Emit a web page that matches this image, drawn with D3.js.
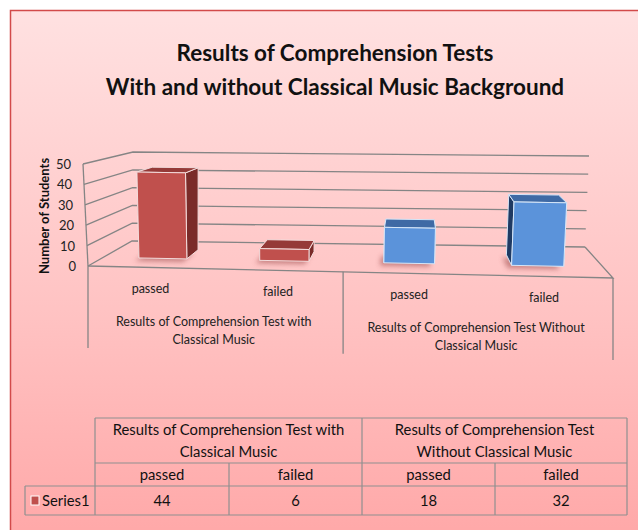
<!DOCTYPE html>
<html>
<head>
<meta charset="utf-8">
<script src="https://d3js.org/d3.v7.min.js"></script>
<style>
body { margin: 0; background: #ffffff; }
svg { display: block; font-family: Lato, "Open Sans", sans-serif; }
</style>
</head>
<body>
<svg id="chart"></svg>
<script>
// chart data
var titleLines = ["Results of Comprehension Tests", "With and without Classical Music Background"]
var yTitle = "Number of Students"
var groups = ["with", "without"]
var axisGroupLabels = [["Results of Comprehension Test with", "Classical Music"],
                       ["Results of Comprehension Test Without", "Classical Music"]]
var tableGroupLabels = [["Results of Comprehension Test with", "Classical Music"],
                        ["Results of Comprehension Test", "Without Classical Music"]]
var outcomes = ["passed", "failed", "passed", "failed"]
var barGroup = ["with", "with", "without", "without"]
var values = [44, 6, 18, 32]
var seriesName = "Series1"
var yTicks = [0, 10, 20, 30, 40, 50]

var screen = { width: 638, height: 530 }

// screen corners of the 3d box (front / back planes)
var box = {
    front: { bl: [88, 266], br: [613, 278], tl: [83, 164], tr: [619, 174] },
    back: { bl: [132, 241], br: [585, 247], tl: [133, 152], tr: [589, 156] }
}

var uScale = d3.scaleBand()
    .domain(d3.range(values.length))
    .range([0, 1])
    .paddingInner(0.6)
    .paddingOuter(0.3)

var vScale = d3.scaleLinear()
    .domain([0, 50])
    .range([0, 1])

var barDepth = [0.35, 0.7]

var lerp = function (a, b, t) {
    return [a[0] + (b[0] - a[0]) * t, a[1] + (b[1] - a[1]) * t]
}

// u: along categories, v: value 0..1, w: depth 0 (front) .. 1 (back)
var project = function (u, v, w) {
    var uu = u / (1.058 - 0.058 * u)
    var f = box.front, b = box.back
    var fb = lerp(f.bl, f.br, uu), ft = lerp(f.tl, f.tr, uu)
    var bb = lerp(b.bl, b.br, uu), bt = lerp(b.tl, b.tr, uu)
    var fp = lerp(fb, ft, v), bp = lerp(bb, bt, v)
    return lerp(fp, bp, w)
}

var pathOf = function (pts) {
    return "M" + pts.map(function (p) { return p[0].toFixed(2) + "," + p[1].toFixed(2) }).join("L") + "Z"
}

var faceColors = {
    with: { front: "#c0504d", top: "#953a38", side: "#7a2b29", edge: "#f3dcdc" },
    without: { front: "#5b93da", top: "#3f6aa5", side: "#1f3a63", edge: "#d6e6f8" }
}

var svg = d3.select("#chart")
    .attr("width", screen.width)
    .attr("height", screen.height)

var defs = svg.append("defs")
var grad = defs.append("linearGradient")
    .attr("id", "bg")
    .attr("x1", 0).attr("y1", 0).attr("x2", 0).attr("y2", 1)
grad.append("stop").attr("offset", "0%").attr("stop-color", "#ffe1e1")
grad.append("stop").attr("offset", "55%").attr("stop-color", "#ffc2c2")
grad.append("stop").attr("offset", "100%").attr("stop-color", "#ffa4a4")

defs.append("filter")
    .attr("id", "blur")
    .attr("x", "-50%").attr("y", "-50%").attr("width", "200%").attr("height", "200%")
    .append("feGaussianBlur")
    .attr("stdDeviation", 2.5)

// chart area frame
svg.append("rect")
    .attr("x", 10.5)
    .attr("y", 10.5)
    .attr("width", 660)
    .attr("height", 560)
    .attr("fill", "url(#bg)")
    .attr("stroke", "#d24a4a")
    .attr("stroke-width", 1.5)

// title
svg.append("g")
    .selectAll("text")
    .data(titleLines)
    .enter()
    .append("text")
    .attr("x", 335)
    .attr("y", function (d, i) { return 61 + i * 34 })
    .attr("text-anchor", "middle")
    .attr("font-weight", "bold")
    .attr("font-size", 22.5)
    .attr("fill", "#111")
    .text(function (d) { return d })

// walls and floor lines
var grid = svg.append("g")
    .attr("fill", "none")
    .attr("stroke", "#858585")
    .attr("stroke-width", 1.3)

yTicks.forEach(function (t) {
    var v = vScale(t)
    grid.append("path")
        .attr("d", d3.line()([project(0, v, 0), project(0, v, 1), project(1, v, 1)]))
})
// left wall front edge
grid.append("path")
    .attr("d", d3.line()([project(0, 0, 0), project(0, 1, 0)]))
// floor front and right edges
grid.append("path")
    .attr("d", d3.line()([project(0, 0, 0), project(1, 0, 0), project(1, 0, 1)]))

// category axis dividers
;[0, 0.5, 1].forEach(function (u) {
    var p = project(u, 0, 0)
    grid.append("path")
        .attr("d", d3.line()([p, [p[0], p[1] + 82]]))
})

// y tick labels
svg.append("g")
    .selectAll("text")
    .data(yTicks)
    .enter()
    .append("text")
    .attr("x", function (t) { return project(0, vScale(t), 0)[0] - 12 })
    .attr("y", function (t) { return project(0, vScale(t), 0)[1] + 5 })
    .attr("text-anchor", "end")
    .attr("font-size", 13)
    .attr("fill", "#222")
    .text(function (t) { return t })

svg.append("text")
    .attr("transform", "translate(49,216) rotate(-90)")
    .attr("text-anchor", "middle")
    .attr("font-weight", "bold")
    .attr("font-size", 13)
    .attr("fill", "#111")
    .text(yTitle)

// category labels
svg.append("g")
    .selectAll("text")
    .data(outcomes)
    .enter()
    .append("text")
    .attr("x", function (d, i) { return project(uScale(i) + uScale.bandwidth() / 2, 0, 0)[0] })
    .attr("y", function (d, i) { return project(uScale(i) + uScale.bandwidth() / 2, 0, 0)[1] + 26 })
    .attr("text-anchor", "middle")
    .attr("font-size", 12.5)
    .attr("fill", "#222")
    .text(function (d) { return d })

var groupLabels = svg.append("g")
axisGroupLabels.forEach(function (lines, g) {
    var p = project(0.25 + g * 0.5, 0, 0)
    groupLabels.selectAll(null)
        .data(lines)
        .enter()
        .append("text")
        .attr("x", p[0])
        .attr("y", function (d, i) { return p[1] + 57 + i * 18 })
        .attr("text-anchor", "middle")
        .attr("font-size", 12.5)
        .attr("fill", "#222")
        .text(function (d) { return d })
})

// bars
var bars = svg.append("g")
values.forEach(function (val, i) {
    var u0 = uScale(i), u1 = uScale(i) + uScale.bandwidth()
    var w0 = barDepth[0], w1 = barDepth[1]
    var v = vScale(val)
    var c = faceColors[barGroup[i]]
    var g = bars.append("g")

    // soft shadow on the floor
    g.append("path")
        .attr("d", pathOf([project(u0, 0, w0), project(u1, 0, w0), project(u1, 0, w1), project(u0, 0, w1)]))
        .attr("transform", "translate(-4,3)")
        .attr("fill", "#9c4a4a")
        .attr("opacity", 0.55)
        .attr("filter", "url(#blur)")

    var faces = [
        { pts: [project(u0, 0, w0), project(u0, 0, w1), project(u0, v, w1), project(u0, v, w0)], fill: c.side },
        { pts: [project(u1, 0, w0), project(u1, 0, w1), project(u1, v, w1), project(u1, v, w0)], fill: c.side },
        { pts: [project(u0, v, w0), project(u1, v, w0), project(u1, v, w1), project(u0, v, w1)], fill: c.top },
        { pts: [project(u0, 0, w0), project(u1, 0, w0), project(u1, v, w0), project(u0, v, w0)], fill: c.front }
    ]
    g.selectAll("path.face")
        .data(faces)
        .enter()
        .append("path")
        .classed("face", true)
        .attr("d", function (f) { return pathOf(f.pts) })
        .attr("fill", function (f) { return f.fill })
        .attr("stroke", c.edge)
        .attr("stroke-width", 1)
        .attr("stroke-linejoin", "round")
})

// data table
var cols = [25, 95, 229, 362, 495, 627]
var rows = [418, 463, 486, 515]
var table = svg.append("g")
var tLines = table.append("g")
    .attr("stroke", "#8f8f8f")
    .attr("stroke-width", 1.2)
    .attr("fill", "none")

var hLines = [[cols[1], rows[0]], [cols[1], rows[1]], [cols[0], rows[2]], [cols[0], rows[3]]]
hLines.forEach(function (h) {
    tLines.append("path").attr("d", d3.line()([[h[0], h[1]], [cols[5], h[1]]]))
})
tLines.append("path").attr("d", d3.line()([[cols[0], rows[2]], [cols[0], rows[3]]]))
tLines.append("path").attr("d", d3.line()([[cols[1], rows[0]], [cols[1], rows[3]]]))
tLines.append("path").attr("d", d3.line()([[cols[3], rows[0]], [cols[3], rows[3]]]))
tLines.append("path").attr("d", d3.line()([[cols[5], rows[0]], [cols[5], rows[3]]]))
tLines.append("path").attr("d", d3.line()([[cols[2], rows[1]], [cols[2], rows[3]]]))
tLines.append("path").attr("d", d3.line()([[cols[4], rows[1]], [cols[4], rows[3]]]))

var tText = table.append("g")
    .attr("font-size", 14.8)
    .attr("fill", "#111")
    .attr("text-anchor", "middle")

tableGroupLabels.forEach(function (lines, g) {
    var cx = (cols[1 + g * 2] + cols[3 + g * 2]) / 2
    tText.selectAll(null)
        .data(lines)
        .enter()
        .append("text")
        .attr("x", cx)
        .attr("y", function (d, i) { return 435 + i * 22 })
        .text(function (d) { return d })
})

tText.selectAll(null)
    .data(outcomes)
    .enter()
    .append("text")
    .attr("x", function (d, i) { return (cols[i + 1] + cols[i + 2]) / 2 })
    .attr("y", 480)
    .text(function (d) { return d })

tText.selectAll(null)
    .data(values)
    .enter()
    .append("text")
    .attr("x", function (d, i) { return (cols[i + 1] + cols[i + 2]) / 2 })
    .attr("y", 506)
    .text(function (d) { return d })

// legend key
table.append("rect")
    .attr("x", 31)
    .attr("y", 496)
    .attr("width", 8)
    .attr("height", 9)
    .attr("fill", faceColors.with.front)
    .attr("stroke", "#ffffff")
    .attr("stroke-width", 1)

table.append("text")
    .attr("x", 42)
    .attr("y", 506)
    .attr("font-size", 14.8)
    .attr("fill", "#111")
    .text(seriesName)
</script>
</body>
</html>
